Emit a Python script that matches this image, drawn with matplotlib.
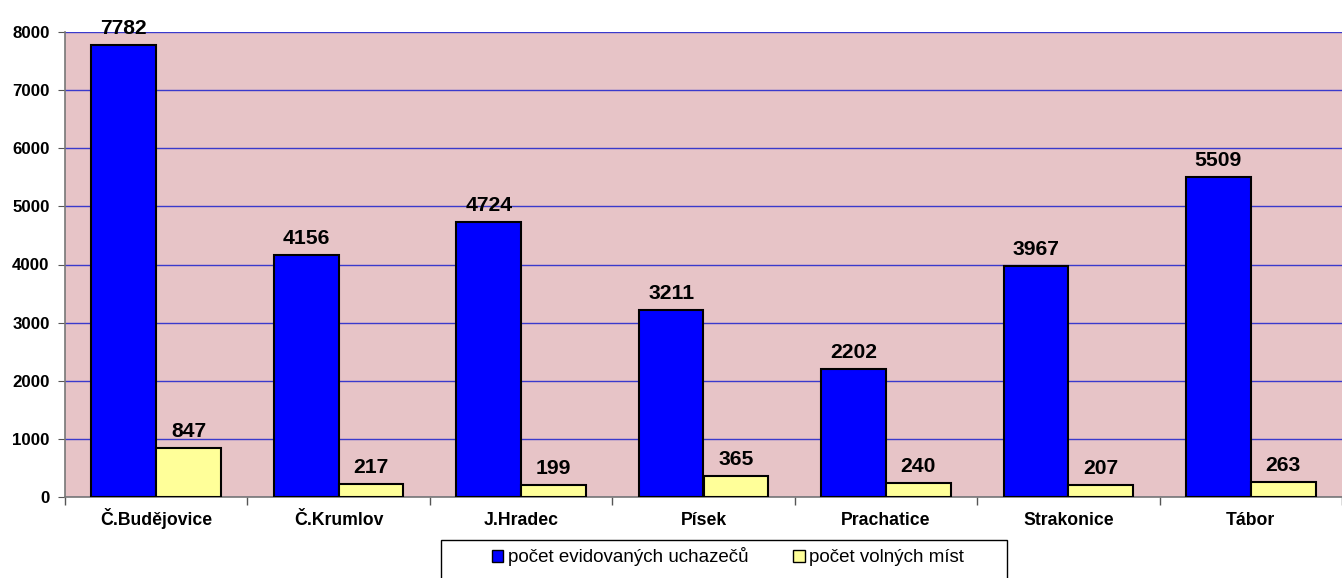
import numpy as np
import matplotlib.pyplot as plt
from matplotlib.patches import Patch, Rectangle

plt.rcParams['font.family'] = ['Liberation Sans', 'DejaVu Sans']

districts = ['Č.Budějovice', 'Č.Krumlov', 'J.Hradec', 'Písek', 'Prachatice', 'Strakonice', 'Tábor']
uchazeci = [7782, 4156, 4724, 3211, 2202, 3967, 5509]
volna_mista = [847, 217, 199, 365, 240, 207, 263]
series_names = ['počet evidovaných uchazečů', 'počet volných míst']

W, H = 1342, 578
fig = plt.figure(figsize=(W / 100, H / 100), dpi=100)
ax = fig.add_axes([65 / W, 1 - 497 / H, 1 - 65 / W, (497 - 32) / H])
ax.set_facecolor('#e7c4c7')

x = np.arange(len(districts))
w = 0.355
b1 = ax.bar(x - w / 2, uchazeci, w, color='#0000ff', edgecolor='black', linewidth=1.5, zorder=3)
b2 = ax.bar(x + w / 2, volna_mista, w, color='#ffff99', edgecolor='black', linewidth=1.5, zorder=3)

for bars in (b1, b2):
    for r in bars:
        ax.annotate(str(int(r.get_height())), (r.get_x() + r.get_width() / 2, r.get_height()),
                    xytext=(0, 5), textcoords='offset points', ha='center', va='bottom',
                    fontsize=15.2, fontweight='bold', zorder=4, annotation_clip=False)

ax.set_ylim(0, 8000)
ax.set_xlim(-0.5, 6.45)
ax.set_yticks(range(0, 8001, 1000))
ax.yaxis.grid(True, color='#3a3acc', linewidth=1.0, zorder=1)
ax.set_axisbelow(True)

# category labels at centres (same baseline), tick marks at boundaries
ax.set_xticks(x)
ax.set_xticklabels(districts, fontsize=12.7, fontweight='bold')
ax.tick_params(axis='x', length=0, pad=20)
for lab in ax.get_xticklabels():
    lab.set_verticalalignment('baseline')
ax.set_xticks(np.arange(-0.5, 7, 1), minor=True)
ax.tick_params(axis='x', which='minor', length=6, color='#555555', width=1)
ax.tick_params(axis='y', length=5, color='#555555', labelsize=12.2, pad=6)
for lab in ax.get_yticklabels():
    lab.set_fontweight('bold')

for s in ['top', 'right']:
    ax.spines[s].set_visible(False)
for s in ['left', 'bottom']:
    ax.spines[s].set_color('#777777')
    ax.spines[s].set_linewidth(1.2)

# legend box (runs off the bottom edge like in the original)
fig.patches.append(Rectangle((441 / W, -0.05), (1007 - 441) / W, 0.05 + 1 - 540 / H,
                             transform=fig.transFigure, facecolor='white',
                             edgecolor='black', linewidth=1.0, zorder=0))
handles = [Patch(facecolor='#0000ff', edgecolor='black'),
           Patch(facecolor='#ffff99', edgecolor='black')]
leg = fig.legend(handles, series_names, loc='center', bbox_to_anchor=(728 / W, 1 - 557 / H),
                 ncol=2, fontsize=13.5, frameon=False,
                 handlelength=0.6, handleheight=0.6, handletextpad=0.25, columnspacing=2.4,
                 borderpad=0, borderaxespad=0)

fig.savefig('out.png', dpi=100)
